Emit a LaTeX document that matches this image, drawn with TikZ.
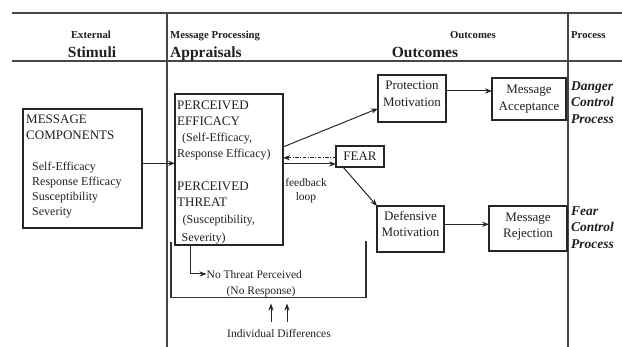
\documentclass[tikz,border=0pt]{standalone}
\usepackage{fontspec}
\setmainfont{Liberation Serif}
\usetikzlibrary{arrows.meta}
\begin{document}
\begin{tikzpicture}[x=1pt,y=-1pt,
  frame/.style={line width=1.3pt, draw=black!72},
  box/.style={draw=black!85, line width=1.1pt, inner sep=0pt, outer sep=0pt},
  arr/.style={line width=1pt, draw=black!85, -{Stealth[length=7pt,width=5.2pt]}},
  dd/.style={line width=1pt, draw=black!85, dash pattern=on 3.5pt off 1.5pt on 1pt off 1.5pt, -{Stealth[length=7pt,width=5.2pt]}},
  t13/.style={font=\fontsize{13}{15}\selectfont, inner sep=0pt, text=black!88},
  t12/.style={font=\fontsize{12}{14}\selectfont, inner sep=0pt, text=black!88},
  t11/.style={font=\fontsize{11.5}{13}\selectfont, inner sep=0pt, text=black!88},
  hsmall/.style={font=\fontsize{10.7}{12}\selectfont\bfseries, inner sep=0pt, text=black!88},
  hbig/.style={font=\fontsize{15.5}{17}\selectfont\bfseries, inner sep=0pt, text=black!88},
  proc/.style={font=\fontsize{13.5}{15}\selectfont\bfseries\itshape, inner sep=0pt, text=black!88, anchor=base west},
]
\useasboundingbox (0,0) rectangle (622,347);

% frame
\draw[frame] (12,13) -- (622,13);
\draw[frame] (12,61) -- (622,61);
\draw[frame] (167,13) -- (167,347);
\draw[frame] (568,13) -- (568,347);

% headers
\node[hsmall, anchor=base] (hExt) at (91,38.3) {External};
\node[hbig, anchor=base] (hSti) at (92,57.2) {Stimuli};
\node[hsmall, anchor=base west] (hMP) at (170,38.3) {Message Processing};
\node[hbig, anchor=base west] (hApp) at (170,57.2) {Appraisals};
\node[hsmall, anchor=base] (hOut1) at (473,38.3) {Outcomes};
\node[hbig, anchor=base] (hOut2) at (425,57.2) {Outcomes};
\node[hsmall, anchor=base west] (hProc) at (571,38.3) {Process};

% boxes
\node[box, minimum width=119, minimum height=119] (mc) at (82.5,168.5) {};
\node[box, minimum width=108, minimum height=151] (pe) at (229,169.5) {};
\node[box, minimum width=68, minimum height=47] (pm) at (412,98.5) {};
\node[box, minimum width=74, minimum height=42] (ma) at (529,99) {};
\node[box, minimum width=48, minimum height=21, t13] (fear) at (360,156.5) {FEAR};
\node[box, minimum width=67, minimum height=46] (dm) at (410.5,229) {};
\node[box, minimum width=78, minimum height=45] (mr) at (528,228.5) {};

% message components text
\node[t13, anchor=base west] (mc1) at (26,123.6) {MESSAGE};
\node[t13, anchor=base west] (mc2) at (26,139.8) {COMPONENTS};
\node[t12, anchor=base west] (mc3) at (32,170.2) {Self-Efficacy};
\node[t12, anchor=base west] (mc4) at (32,185.2) {Response Efficacy};
\node[t12, anchor=base west] (mc5) at (32,200.2) {Susceptibility};
\node[t12, anchor=base west] (mc6) at (32,215.6) {Severity};

% perceived text
\node[t13, anchor=base west] (pe1) at (177,109.3) {PERCEIVED};
\node[t13, anchor=base west] (pe2) at (177,125.4) {EFFICACY};
\node[t12, anchor=base west] (pe3) at (182,141.8) {(Self-Efficacy,};
\node[t12, anchor=base west] (pe4) at (177,157.8) {Response Efficacy)};
\node[t13, anchor=base west] (pe5) at (177,190.9) {PERCEIVED};
\node[t13, anchor=base west] (pe6) at (177,207) {THREAT};
\node[t12, anchor=base west] (pe7) at (182.5,223.5) {(Susceptibility,};
\node[t12, anchor=base west] (pe8) at (181.5,241.8) {Severity)};

% outcome box texts
\node[t13, anchor=base] (pm1) at (412,90) {Protection};
\node[t13, anchor=base] (pm2) at (412,106.2) {Motivation};
\node[t13, anchor=base] (ma1) at (529,93.6) {Message};
\node[t13, anchor=base] (ma2) at (529,110.2) {Acceptance};
\node[t13, anchor=base] (dm1) at (410.5,221) {Defensive};
\node[t13, anchor=base] (dm2) at (410.5,236.6) {Motivation};
\node[t13, anchor=base] (mr1) at (528,222) {Message};
\node[t13, anchor=base] (mr2) at (528,238) {Rejection};

% process labels
\node[proc] (dc1) at (571,90.7) {Danger};
\node[proc] (dc2) at (571,106.8) {Control};
\node[proc] (dc3) at (571,123.2) {Process};
\node[proc] (fc1) at (571,215.7) {Fear};
\node[proc] (fc2) at (571,231.8) {Control};
\node[proc] (fc3) at (571,248.2) {Process};

% feedback
\node[t11, anchor=base] (fb1) at (306,186.8) {feedback};
\node[t11, anchor=base] (fb2) at (306,201) {loop};

% no threat
\node[t11, anchor=base west] (nt1) at (206.5,278.5) {No Threat Perceived};
\node[t11, anchor=base] (nt2) at (261,294.5) {(No Response)};
\node[t11, anchor=base] (idf) at (279,337.8) {Individual Differences};

% connectors
\draw[arr] (mc.east |- 0,163.3) -- (pe.west |- 0,163.3);
\draw[arr] (pe.east |- 0,147) -- (pm.west |- 0,108.5);
\draw[dd] (fear.west |- 0,157.8) -- (pe.east |- 0,157.8);
\draw[arr] (pe.east |- 0,164) -- (fear.west |- 0,164);
\draw[arr] (fear.south west) ++(7,0) coordinate (fs) (fs) -- (dm.north west);
\draw[arr] (pm.east |- 0,91) -- (ma.west |- 0,91);
\draw[arr] (dm.east |- 0,224.3) -- (mr.west |- 0,224.3);

% no threat connector
\coordinate (ntc) at (190,274);
\draw[arr] (pe.south -| ntc) |- (nt1.west |- ntc);

% bracket
\draw[line width=1.1pt, draw=black!80] (171,241.7) -- (171,297.3) -- (366,297.3) -- (366,240.7);

% individual differences arrows
\coordinate (ia) at (271,322);
\coordinate (ib) at (287,322);
\coordinate (iat) at (271,303.5);
\coordinate (ibt) at (287,303.5);
\draw[arr] (ia) -- (iat);
\draw[arr] (ib) -- (ibt);
\end{tikzpicture}
\end{document}
